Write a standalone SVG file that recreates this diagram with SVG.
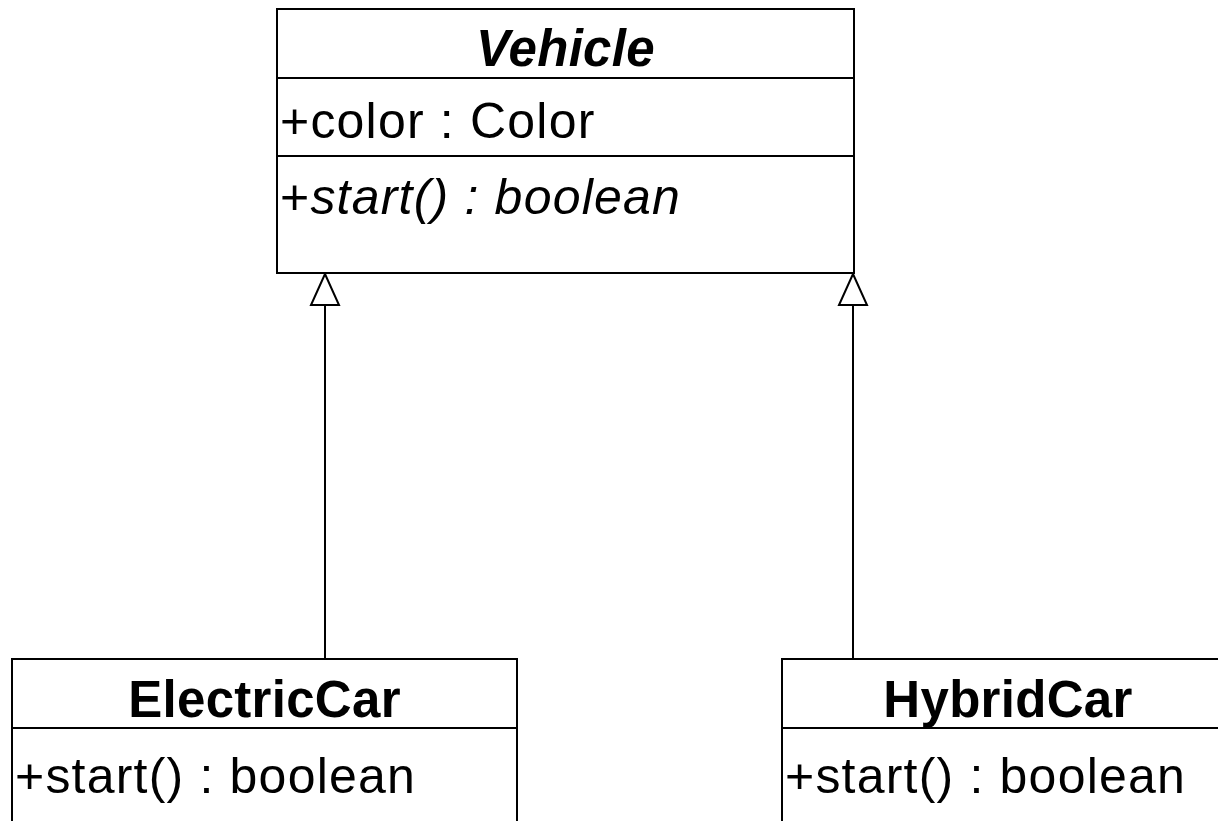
<svg xmlns="http://www.w3.org/2000/svg" width="1218" height="821" viewBox="0 0 1218 821">
<style>
.box{fill:#fff;stroke:#000;stroke-width:2}
.ln{stroke:#000;stroke-width:2;fill:none}
.tri{fill:#fff;stroke:#000;stroke-width:2}
.t{font-family:"Liberation Sans",Arial,sans-serif;font-size:50px;fill:#000;letter-spacing:1.2px}
.title{font-weight:bold;text-anchor:middle;font-size:51px;letter-spacing:0.3px}
.it{font-style:italic}
</style>
<rect width="1218" height="821" fill="#fff"/>
<g id="connectors">
<path class="ln" d="M325,658 L325,305"/>
<path class="ln" d="M853,658 L853,305"/>
<path class="tri" d="M325,274 L339,305 L311,305 Z"/>
<path class="tri" d="M853,274 L867,305 L839,305 Z"/>
</g>
<g id="Vehicle">
<rect class="box" x="277" y="9" width="577" height="264"/>
<line class="ln" x1="277" y1="78" x2="854" y2="78"/>
<line class="ln" x1="277" y1="156" x2="854" y2="156"/>
<text class="t title it" x="565.5" y="66">Vehicle</text>
<text class="t" x="280" y="138">+color : Color</text>
<text class="t" x="280" y="214">+<tspan class="it">start() : boolean</tspan></text>
</g>
<g id="ElectricCar">
<rect class="box" x="12" y="659" width="505" height="180"/>
<line class="ln" x1="12" y1="728" x2="517" y2="728"/>
<text class="t title" x="264.5" y="717">ElectricCar</text>
<text class="t" x="15" y="793">+start() : boolean</text>
</g>
<g id="HybridCar">
<rect class="box" x="782" y="659" width="505" height="180"/>
<line class="ln" x1="782" y1="728" x2="1287" y2="728"/>
<text class="t title" x="1008" y="717">HybridCar</text>
<text class="t" x="785" y="793">+start() : boolean</text>
</g>
</svg>
